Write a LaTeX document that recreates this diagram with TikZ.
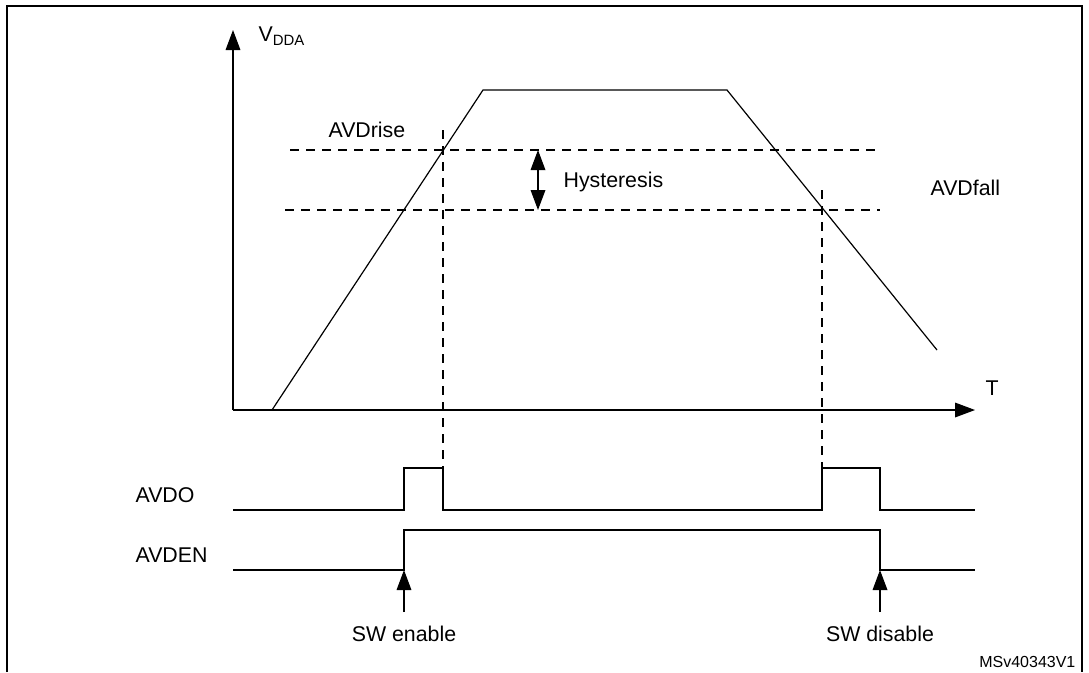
\documentclass[tikz,border=0pt]{standalone}
\usepackage{fontspec}
\setmainfont{Liberation Sans}
\usetikzlibrary{positioning, arrows.meta}
\tikzstyle{lbl} = [inner sep=0pt, font=\fontsize{16}{19}\selectfont]
\tikzstyle{thr} = [dashed, dash pattern=on 7pt off 5pt]
\tikzstyle{sig} = [line width=1pt]
\begin{document}
\begin{tikzpicture}[x=0.75pt, y=-0.75pt, line width=0.9pt,
    >={Triangle[length=15pt, width=11pt]}]
    \useasboundingbox (0,0) rectangle (1089,672);
    \draw[line width=1.2pt] (7,672) -- (7,6) -- (1082,6) -- (1082,672);
    % axes
    \coordinate (o) at (233,410);
    \coordinate (ytop) at (233,30);
    \coordinate (xend) at (975,410);
    \draw[->] (o) -- (ytop);
    \draw[->] (o) -- (xend);
    \node[lbl, anchor=west] (vdda) at (258,36) {V\textsubscript{DDA}};
    \node[lbl, anchor=west] (t) at (985,388) {T};
    % supply curve
    \coordinate (c0) at (272,410);
    \coordinate (c1) at (483,90);
    \coordinate (c2) at (727,90);
    \coordinate (c3) at (937,350);
    \draw (c0) -- (c1) -- (c2) -- (c3);
    % thresholds
    \draw[thr] (290,150) coordinate (r0) -- (880,150) coordinate (r1);
    \draw[thr] (285,210) coordinate (f0) -- (880,210) coordinate (f1);
    \node[lbl, anchor=south west] (rise) at (328,138) {AVDrise};
    \node[lbl, anchor=south west] (fall) at (930,196) {AVDfall};
    \coordinate (h0) at (538,150);
    \coordinate (h1) at (538,210);
    \coordinate (hm) at (538,180);
    \draw[->] (hm) -- (h0);
    \draw[->] (hm) -- (h1);
    \node[lbl, anchor=west] (hyst) at (563,182) {Hysteresis};
    % markers
    \draw[thr] (443,130) coordinate (m0) -- (443,468) coordinate (m1);
    \draw[thr] (822,190) coordinate (n0) -- (822,468) coordinate (n1);
    % AVDO
    \node[lbl, anchor=west] (avdo) at (135,495) {AVDO};
    \draw[sig] (233,510) -- (404,510) -- (404,468) -- (443,468) -- (443,510)
        -- (822,510) -- (822,468) -- (880,468) -- (880,510) -- (975,510);
    % AVDEN
    \node[lbl, anchor=west] (avden) at (135,555) {AVDEN};
    \draw[sig] (233,570) -- (404,570) -- (404,530) -- (880,530) -- (880,570) -- (975,570);
    % software events
    \coordinate (en) at (404,570);
    \coordinate (dis) at (880,570);
    \draw[->] (404,612) -- (en);
    \draw[->] (880,612) -- (dis);
    \node[lbl, anchor=north] (swen) at (404,625) {SW enable};
    \node[lbl, anchor=north] (swdis) at (880,625) {SW disable};
    \node[anchor=south east, inner sep=0pt, font=\fontsize{12}{14}\selectfont]
        (ref) at (1076,668) {MSv40343V1};
\end{tikzpicture}
\end{document}
